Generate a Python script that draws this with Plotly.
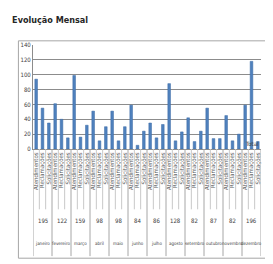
import plotly.graph_objects as go

months = ["janeiro", "fevereiro", "março", "abril", "maio", "junho",
          "julho", "agosto", "setembro", "outubro", "novembro", "dezembro"]
month_totals = ["195", "122", "159", "98", "98", "84", "86", "128", "82", "87", "82", "196"]
items = ["Atendimentos", "Reclamações", "Solicitações"]
values = [94, 55, 35,
          61, 40, 15,
          99, 16, 32,
          51, 11, 30,
          51, 11, 30,
          59, 5, 24,
          35, 15, 33,
          88, 11, 23,
          42, 10, 24,
          55, 14, 14,
          45, 11, 20,
          59, 118, 10]
y_ticks = [0, 20, 40, 60, 80, 100, 120, 140]
series_name = "Total"

FONT = "Liberation Sans Narrow, DejaVu Sans Condensed, Arial Narrow, sans-serif"

n = len(values)
xs = list(range(n))
item_labels = [items[i % len(items)] for i in range(n)]
group = len(items)

fig = go.Figure()
fig.add_trace(go.Bar(x=xs, y=values, name=series_name, width=0.42, showlegend=False,
                     marker=dict(color="#4F81BD", line=dict(color="#3A6AA6", width=0.5))))

shapes = []
for k in range(n + 1):
    is_group = (k % group == 0)
    shapes.append(dict(type="line", xref="x", yref="paper", x0=k - 0.5, x1=k - 0.5,
                       y0=0, y1=-1.03 if is_group else -0.58,
                       line=dict(color="#c8c8c8" if not is_group else "#a6a6a6", width=1)))
# outer chart frame
shapes.append(dict(type="rect", xref="paper", yref="paper", x0=-0.064, x1=1.04,
                   y0=-1.05, y1=1.04, line=dict(color="#a6a6a6", width=1)))
# legend marker
shapes.append(dict(type="rect", xref="paper", yref="paper", x0=0.925, x1=0.937,
                   y0=0.005, y1=0.06, fillcolor="#4F81BD", line=dict(width=0)))
# small dark square at right edge
shapes.append(dict(type="rect", xref="paper", yref="paper", x0=1.055, x1=1.07,
                   y0=-0.90, y1=-0.84, fillcolor="#222222", line=dict(width=0)))

annotations = [dict(x=1.0, y=0.0, xref="paper", yref="paper", text=series_name, showarrow=False,
                    xanchor="right", yanchor="bottom",
                    font=dict(size=6, color="#404040", family=FONT))]
for gi, (m, t) in enumerate(zip(months, month_totals)):
    cx = gi * group + (group - 1) / 2
    annotations.append(dict(x=cx, y=-0.74, xref="x", yref="paper", text=t, showarrow=False,
                            font=dict(size=6, color="#404040", family=FONT)))
    annotations.append(dict(x=cx, y=-0.955, xref="x", yref="paper", text=m, showarrow=False,
                            font=dict(size=4.5, color="#404040", family=FONT)))

fig.update_layout(
    width=273, height=264,
    margin=dict(l=22, r=20, t=37, b=123),
    paper_bgcolor="white", plot_bgcolor="white",
    title=dict(text="<b>Evolução Mensal</b>", x=0.015, xanchor="left", y=0.955, yanchor="middle",
               font=dict(size=9, color="#262626", family=FONT)),
    xaxis=dict(range=[-0.5, n - 0.5], tickmode="array", tickvals=xs, ticktext=item_labels,
               tickangle=-90, tickfont=dict(size=6, color="#595959", family=FONT),
               showgrid=False, showline=True, linecolor="#8c8c8c", linewidth=1, ticks="", zeroline=False),
    yaxis=dict(range=[0, 140], tickmode="array", tickvals=y_ticks, showgrid=True,
               gridcolor="#8c8c8c", gridwidth=1, showline=True, linecolor="#8c8c8c",
               tickfont=dict(size=6, color="#404040", family=FONT),
               zeroline=False, ticks=""),
    showlegend=False,
    shapes=shapes, annotations=annotations, bargap=0.5,
)

fig.write_html("out.html")
